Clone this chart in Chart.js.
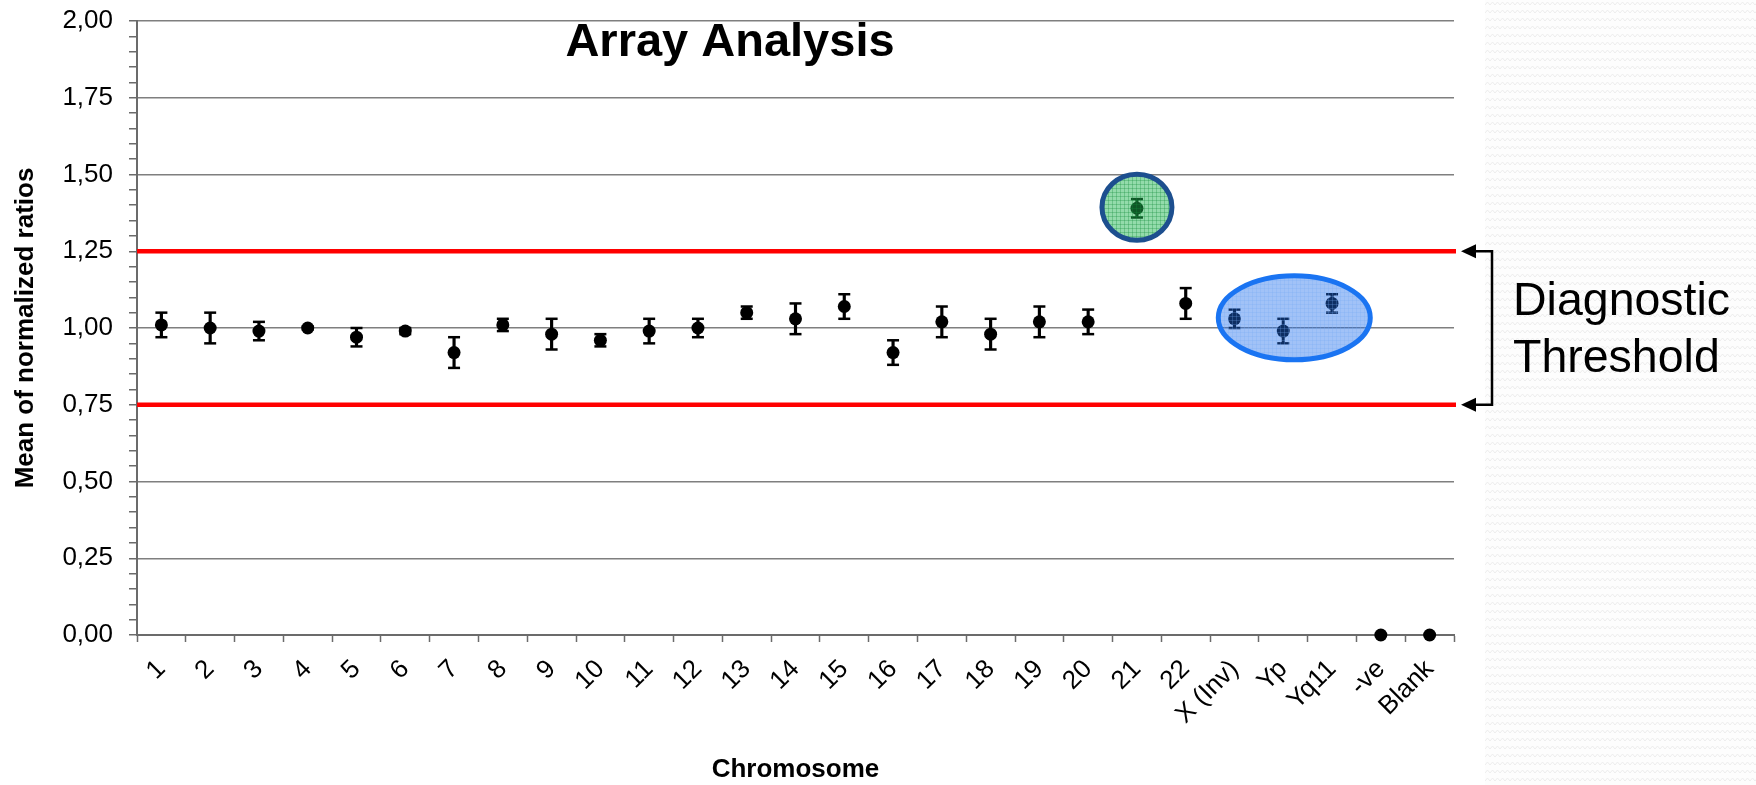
<!DOCTYPE html>
<html><head><meta charset="utf-8">
<script src="https://cdn.jsdelivr.net/npm/chart.js@4.4.1/dist/chart.umd.min.js"></script>
<style>html,body{margin:0;padding:0;background:#fff;}#wrap{width:1756px;height:785px;position:relative;}</style>
</head><body><div id="wrap"><canvas id="c" width="1756" height="785"></canvas></div>
<script>
// ---------- data ----------
const categories = ['1','2','3','4','5','6','7','8','9','10','11','12','13','14','15','16','17','18','19','20','21','22','X (Inv)','Yp','Yq11','-ve','Blank'];
const meanValues = [1.01,1.00,0.99,1.00,0.97,0.99,0.92,1.01,0.98,0.96,0.99,1.00,1.05,1.03,1.07,0.92,1.02,0.98,1.02,1.02,1.39,1.08,1.03,0.99,1.08,0,0];
const errorValues = [0.04,0.05,0.03,0.005,0.03,0.01,0.05,0.02,0.05,0.02,0.04,0.03,0.02,0.05,0.04,0.04,0.05,0.05,0.05,0.04,0.03,0.05,0.03,0.04,0.03,null,null];
const thresholdValues = [1.25, 0.75];
const yMin = 0, yMax = 2, yMajorStep = 0.25, yMinorStep = 0.05;
const chartTitle = 'Array Analysis';
const xTitle = 'Chromosome';
const yTitle = 'Mean of normalized ratios';
const noteLines = ['Diagnostic', 'Threshold'];
const greenHighlightCats = ['21'];
const blueHighlightCats = ['X (Inv)', 'Yp', 'Yq11'];

// ---------- helpers ----------
const FONT = "'Liberation Sans', Arial, sans-serif";
const isMajor = v => Math.abs(Math.round(v * 100) % Math.round(yMajorStep * 100)) === 0;
const errRanges = meanValues.map((v, i) => errorValues[i] == null ? null : [v - errorValues[i], v + errorValues[i]]);
const errHigh = meanValues.map((v, i) => errorValues[i] == null ? null : v + errorValues[i]);
const errLow = meanValues.map((v, i) => errorValues[i] == null ? null : v - errorValues[i]);

function makePattern(w, h, draw) {
  const c = document.createElement('canvas'); c.width = w; c.height = h;
  const g = c.getContext('2d'); draw(g, w, h);
  return document.getElementById('c').getContext('2d').createPattern(c, 'repeat');
}

const decorPlugin = {
  id: 'decor',
  beforeDraw(chart) {
    const ctx = chart.ctx, W = chart.width, H = chart.height;
    ctx.save();
    ctx.fillStyle = '#ffffff'; ctx.fillRect(0, 0, W, H);
    const pat = makePattern(10, 8, (g, w, h) => {
      g.fillStyle = '#fdfdfd'; g.fillRect(0, 0, w, h);
      g.strokeStyle = '#ededed'; g.lineWidth = 1;
      g.beginPath(); g.moveTo(0, 5); g.lineTo(2.5, 2); g.lineTo(5, 5); g.lineTo(7.5, 2); g.lineTo(10, 5); g.stroke();
    });
    ctx.fillStyle = pat;
    ctx.fillRect(chart.chartArea.right + 31, 0, W - (chart.chartArea.right + 31), H);
    ctx.restore();
  },
  beforeDatasetsDraw(chart) {
    const ctx = chart.ctx, a = chart.chartArea, y = chart.scales.y;
    ctx.save();
    ctx.strokeStyle = '#ff0000'; ctx.lineWidth = 4.5;
    thresholdValues.forEach(t => {
      const py = y.getPixelForValue(t);
      ctx.beginPath(); ctx.moveTo(a.left, py); ctx.lineTo(a.right + 2, py); ctx.stroke();
    });
    ctx.restore();
  },
  afterDatasetsDraw(chart) {
    const ctx = chart.ctx, a = chart.chartArea, x = chart.scales.x, y = chart.scales.y;
    ctx.save();
    // green highlight
    const gIdx = greenHighlightCats.map(c => categories.indexOf(c));
    const gx = gIdx.reduce((s, i) => s + x.getPixelForValue(i), 0) / gIdx.length;
    const gy = gIdx.reduce((s, i) => s + y.getPixelForValue(meanValues[i]), 0) / gIdx.length;
    const greenPat = makePattern(4, 4, (g, w, h) => {
      g.fillStyle = 'rgba(30,180,80,0.48)'; g.fillRect(0, 0, w, h);
      g.fillStyle = 'rgba(20,140,60,0.3)'; g.fillRect(0, 0, w, 1); g.fillRect(0, 0, 1, h);
    });
    ctx.beginPath(); ctx.ellipse(gx, gy - 1, 35, 33, 0, 0, Math.PI * 2);
    ctx.fillStyle = greenPat; ctx.fill();
    ctx.lineWidth = 5; ctx.strokeStyle = '#1d4f8f'; ctx.stroke();
    // blue highlight
    const bIdx = blueHighlightCats.map(c => categories.indexOf(c));
    const bx = bIdx.reduce((s, i) => s + x.getPixelForValue(i), 0) / bIdx.length + 11;
    const by = bIdx.reduce((s, i) => s + y.getPixelForValue(meanValues[i]), 0) / bIdx.length;
    const bluePat = makePattern(4, 4, (g, w, h) => {
      g.fillStyle = 'rgba(30,110,235,0.42)'; g.fillRect(0, 0, w, h);
      g.fillStyle = 'rgba(120,170,245,0.25)'; g.fillRect(0, 0, w, 1); g.fillRect(0, 0, 1, h);
    });
    ctx.beginPath(); ctx.ellipse(bx, by, 76, 42, 0, 0, Math.PI * 2);
    ctx.fillStyle = bluePat; ctx.fill();
    ctx.lineWidth = 5; ctx.strokeStyle = '#1a74f2'; ctx.stroke();

    // title
    ctx.fillStyle = '#000'; ctx.font = 'bold 47px ' + FONT;
    ctx.textAlign = 'center'; ctx.textBaseline = 'alphabetic';
    ctx.fillText(chartTitle, a.left + 593, a.top + 35);

    // bracket with arrows
    const ys = thresholdValues.map(t => y.getPixelForValue(t));
    const tip = a.right + 7, base = tip + 15, vx = a.right + 38;
    ctx.strokeStyle = '#000'; ctx.lineWidth = 2.5;
    ctx.beginPath();
    ctx.moveTo(base, ys[0]); ctx.lineTo(vx, ys[0]); ctx.lineTo(vx, ys[1]); ctx.lineTo(base, ys[1]);
    ctx.stroke();
    ctx.fillStyle = '#000';
    ys.forEach(py => {
      ctx.beginPath(); ctx.moveTo(tip, py); ctx.lineTo(base, py - 7); ctx.lineTo(base, py + 7); ctx.closePath(); ctx.fill();
    });
    // note text
    const mid = (ys[0] + ys[1]) / 2;
    ctx.font = '46.5px ' + FONT; ctx.textAlign = 'left';
    ctx.fillText(noteLines[0], vx + 21, mid - 13);
    ctx.fillText(noteLines[1], vx + 21, mid + 44);
    ctx.restore();
  }
};

Chart.defaults.font.family = FONT;
Chart.defaults.color = '#000';

new Chart(document.getElementById('c'), {
  type: 'bar',
  data: {
    labels: categories,
    datasets: [
      { type: 'line', label: 'mean', data: meanValues, showLine: false, pointStyle: 'circle', pointRadius: 6.5,
        pointBackgroundColor: '#000', pointBorderColor: '#000', pointBorderWidth: 0, clip: false, order: 0 },
      { type: 'line', label: 'high', data: errHigh, showLine: false, pointStyle: 'line', pointRadius: 6,
        pointBorderColor: '#000', pointBorderWidth: 2.5, clip: false, order: 1 },
      { type: 'line', label: 'low', data: errLow, showLine: false, pointStyle: 'line', pointRadius: 6,
        pointBorderColor: '#000', pointBorderWidth: 2.5, clip: false, order: 1 },
      { type: 'bar', label: 'err', data: errRanges, backgroundColor: '#000', barThickness: 2.5, borderWidth: 0, order: 2 }
    ]
  },
  options: {
    responsive: false,
    animation: false,
    events: [],
    layout: { padding: { left: 0, right: 302, top: 21, bottom: 0 } },
    plugins: { legend: { display: false }, tooltip: { enabled: false }, title: { display: false } },
    scales: {
      x: {
        type: 'category', offset: true,
        grid: { offset: true, drawOnChartArea: false, drawTicks: true, tickLength: 7, tickColor: '#6b6b6b', tickWidth: 1.5 },
        border: { color: '#6b6b6b', width: 2 },
        ticks: { autoSkip: false, maxRotation: 45, minRotation: 45, font: { size: 26 }, color: '#000', padding: 12 },
        title: { display: true, text: xTitle, font: { size: 26, weight: 'bold' }, color: '#000', padding: { top: 0, bottom: 0 } },
        afterFit(s) { s.height = 150; s.paddingLeft = 0; s.paddingRight = 0; }
      },
      y: {
        min: yMin, max: yMax,
        ticks: {
          stepSize: yMinorStep, maxTicksLimit: 100, autoSkip: false, font: { size: 26 }, color: '#000', padding: 16,
          callback: v => isMajor(v) ? v.toFixed(2).replace('.', ',') : ''
        },
        grid: {
          color: c => (isMajor(c.tick.value) && c.tick.value > 0) ? '#7f7f7f' : 'rgba(0,0,0,0)',
          lineWidth: 1.5, drawTicks: true, tickLength: 8, tickColor: '#6b6b6b', tickWidth: 1.5
        },
        border: { color: '#6b6b6b', width: 2 },
        title: { display: true, text: yTitle, font: { size: 26, weight: 'bold' }, color: '#000', padding: { top: 10, bottom: 0 } },
        afterFit(s) { s.width = 137; s.paddingTop = 0; s.paddingBottom = 0; }
      }
    }
  },
  plugins: [decorPlugin]
});
</script></body></html>
